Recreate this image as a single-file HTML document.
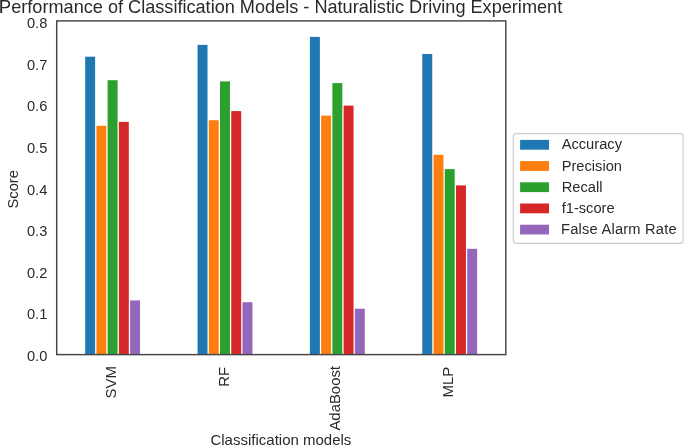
<!DOCTYPE html>
<html><head><meta charset="utf-8"><title>Performance of Classification Models</title>
<style>
html,body{margin:0;padding:0;background:#fff;}
body{width:685px;height:446px;overflow:hidden;font-family:"Liberation Sans",sans-serif;}
svg{display:block;}
text{font-family:"Liberation Sans",sans-serif;fill:#2a2a2a;}
</style></head><body>
<svg width="685" height="446" viewBox="0 0 685 446">
<defs><filter id="soft" color-interpolation-filters="sRGB" x="0" y="0" width="685" height="446" filterUnits="userSpaceOnUse"><feOffset dx="0" dy="0" color-interpolation-filters="sRGB"/></filter></defs>
<rect x="0" y="0" width="685" height="446" fill="#ffffff"/>
<g filter="url(#soft)">
<rect x="85.18" y="56.70" width="9.95" height="297.90" fill="#1f77b4"/>
<rect x="96.41" y="125.80" width="9.95" height="228.80" fill="#ff7f0e"/>
<rect x="107.64" y="80.20" width="9.95" height="274.40" fill="#2ca02c"/>
<rect x="118.87" y="121.90" width="9.95" height="232.70" fill="#d62728"/>
<rect x="130.10" y="300.40" width="9.95" height="54.20" fill="#9467bd"/>
<rect x="197.55" y="44.90" width="9.95" height="309.70" fill="#1f77b4"/>
<rect x="208.78" y="120.20" width="9.95" height="234.40" fill="#ff7f0e"/>
<rect x="220.01" y="81.40" width="9.95" height="273.20" fill="#2ca02c"/>
<rect x="231.24" y="111.10" width="9.95" height="243.50" fill="#d62728"/>
<rect x="242.47" y="302.20" width="9.95" height="52.40" fill="#9467bd"/>
<rect x="309.92" y="36.90" width="9.95" height="317.70" fill="#1f77b4"/>
<rect x="321.15" y="115.60" width="9.95" height="239.00" fill="#ff7f0e"/>
<rect x="332.38" y="83.10" width="9.95" height="271.50" fill="#2ca02c"/>
<rect x="343.61" y="105.60" width="9.95" height="249.00" fill="#d62728"/>
<rect x="354.84" y="308.70" width="9.95" height="45.90" fill="#9467bd"/>
<rect x="422.29" y="54.00" width="9.95" height="300.60" fill="#1f77b4"/>
<rect x="433.52" y="154.80" width="9.95" height="199.80" fill="#ff7f0e"/>
<rect x="444.75" y="169.10" width="9.95" height="185.50" fill="#2ca02c"/>
<rect x="455.98" y="185.40" width="9.95" height="169.20" fill="#d62728"/>
<rect x="467.21" y="248.80" width="9.95" height="105.80" fill="#9467bd"/>
<rect x="56.70" y="20.90" width="449.10" height="333.70" fill="none" stroke="#464646" stroke-width="1.45"/>
<rect x="0" y="0" width="0.6" height="13" fill="#555"/>
<text x="280.65" y="12.8" font-size="18.14" text-anchor="middle">Performance of Classification Models - Naturalistic Driving Experiment</text>
<text x="47.3" y="360.75" font-size="14.67" text-anchor="end">0.0</text>
<text x="47.3" y="319.19" font-size="14.67" text-anchor="end">0.1</text>
<text x="47.3" y="277.63" font-size="14.67" text-anchor="end">0.2</text>
<text x="47.3" y="236.07" font-size="14.67" text-anchor="end">0.3</text>
<text x="47.3" y="194.51" font-size="14.67" text-anchor="end">0.4</text>
<text x="47.3" y="152.95" font-size="14.67" text-anchor="end">0.5</text>
<text x="47.3" y="111.39" font-size="14.67" text-anchor="end">0.6</text>
<text x="47.3" y="69.83" font-size="14.67" text-anchor="end">0.7</text>
<text x="47.3" y="28.27" font-size="14.67" text-anchor="end">0.8</text>
<text transform="translate(18.3,189.3) rotate(-90)" font-size="14.67" text-anchor="middle">Score</text>
<text transform="translate(116.2,366.2) rotate(-90)" font-size="14.9" text-anchor="end">SVM</text>
<text transform="translate(229.0,367.0) rotate(-90)" font-size="14.9" text-anchor="end">RF</text>
<text transform="translate(339.5,366.0) rotate(-90)" font-size="14.9" text-anchor="end">AdaBoost</text>
<text transform="translate(453.1,366.8) rotate(-90)" font-size="14.9" text-anchor="end">MLP</text>
<text x="280.9" y="445.1" font-size="15.0" text-anchor="middle">Classification models</text>
<rect x="513.3" y="133.6" width="169.8" height="109.8" rx="3" ry="3" fill="#ffffff" stroke="#cccccc" stroke-width="1.1"/>
<rect x="520.1" y="139.90" width="28.9" height="9.8" fill="#1f77b4"/>
<text x="561.7" y="149.40" font-size="14.67">Accuracy</text>
<rect x="520.1" y="161.10" width="28.9" height="9.8" fill="#ff7f0e"/>
<text x="561.7" y="170.60" font-size="14.67">Precision</text>
<rect x="520.1" y="182.30" width="28.9" height="9.8" fill="#2ca02c"/>
<text x="561.7" y="191.80" font-size="14.67">Recall</text>
<rect x="520.1" y="203.50" width="28.9" height="9.8" fill="#d62728"/>
<text x="561.7" y="213.00" font-size="14.67">f1-score</text>
<rect x="520.1" y="224.70" width="28.9" height="9.8" fill="#9467bd"/>
<text x="561.1" y="234.20" font-size="14.67" letter-spacing="0.21">False Alarm Rate</text>
</g>
</svg>
</body></html>
